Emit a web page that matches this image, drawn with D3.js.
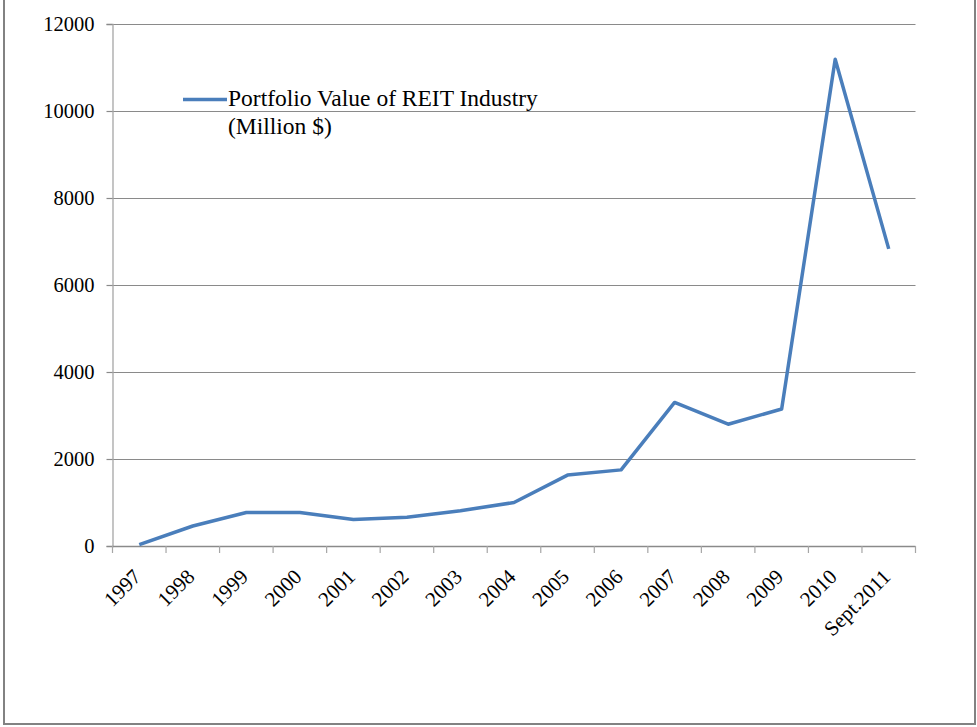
<!DOCTYPE html>
<html>
<head>
<meta charset="utf-8">
<script src="https://cdn.jsdelivr.net/npm/d3@7"></script>
<style>
  html, body { margin: 0; padding: 0; background: #fff; }
  svg { display: block; }
  text { font-family: "Liberation Serif", "Times New Roman", serif; fill: #000; }
</style>
</head>
<body>
<svg id="chart" width="977" height="727"></svg>
<script>
// Portfolio value of the REIT industry, million $
const categories = ["1997","1998","1999","2000","2001","2002","2003","2004",
                    "2005","2006","2007","2008","2009","2010","Sept.2011"];
const values = [30, 460, 770, 770, 610, 660, 810, 1000,
                1630, 1750, 3300, 2800, 3150, 11190, 6830];
const yTicks = [0, 2000, 4000, 6000, 8000, 10000, 12000];
const seriesName = ["Portfolio Value of REIT Industry", "(Million $)"];

const svg = d3.select("#chart");
const plot = { left: 112.5, right: 915.5, top: 24, bottom: 546 };

// outer frame
svg.append("rect")
  .attr("x", 4).attr("y", -5)
  .attr("width", 971).attr("height", 729)
  .attr("fill", "none").attr("stroke", "#828282").attr("stroke-width", 2);

const x = d3.scaleBand().domain(categories).range([plot.left, plot.right]).padding(0);
const y = d3.scaleLinear().domain([0, 12000]).range([plot.bottom, plot.top]);

// horizontal gridlines
svg.append("g").selectAll("line").data(yTicks.filter(d => d > 0)).join("line")
  .attr("x1", plot.left).attr("x2", plot.right)
  .attr("y1", d => Math.round(y(d)) + 0.5).attr("y2", d => Math.round(y(d)) + 0.5)
  .attr("stroke", "#8a8a8a").attr("stroke-width", 1.2);

// y axis
const yAxis = svg.append("g")
  .attr("transform", `translate(${plot.left},0)`)
  .call(d3.axisLeft(y).tickValues(yTicks).tickSize(6).tickPadding(12).tickFormat(d3.format("d")));
yAxis.select(".domain").attr("stroke", "#a6a6a6").attr("stroke-width", 1.3);
yAxis.selectAll(".tick line").attr("stroke", "#8a8a8a").attr("stroke-width", 1.2);
yAxis.selectAll(".tick text")
  .style("font-family", "'Liberation Serif', 'Times New Roman', serif")
  .style("font-size", "20.5px").attr("fill", "#000");

// x axis with boundary ticks
const xAxisG = svg.append("g").attr("transform", `translate(0,${plot.bottom})`);
xAxisG.append("line")
  .attr("x1", plot.left).attr("x2", plot.right)
  .attr("y1", 0.5).attr("y2", 0.5)
  .attr("stroke", "#8a8a8a").attr("stroke-width", 1.3);
const bounds = categories.map(c => x(c)).concat([x(categories[categories.length - 1]) + x.bandwidth()]);
xAxisG.selectAll("line.tk").data(bounds).join("line").attr("class", "tk")
  .attr("x1", d => d).attr("x2", d => d)
  .attr("y1", 0).attr("y2", 7)
  .attr("stroke", "#a6a6a6").attr("stroke-width", 1.2);
xAxisG.selectAll("text").data(categories).join("text")
  .attr("transform", d => `translate(${x(d) + x.bandwidth() / 2 + 3},${32}) rotate(-45)`)
  .attr("text-anchor", "end")
  .style("font-size", "21px")
  .text(d => d);

// series line
const line = d3.line()
  .x((d, i) => x(categories[i]) + x.bandwidth() / 2)
  .y(d => y(d));
svg.append("path")
  .datum(values)
  .attr("d", line)
  .attr("fill", "none")
  .attr("stroke", "#4a7ebb")
  .attr("stroke-width", 3.5)
  .attr("stroke-linejoin", "round");

// legend
const lg = svg.append("g");
lg.append("line")
  .attr("x1", 183).attr("x2", 227).attr("y1", 99.5).attr("y2", 99.5)
  .attr("stroke", "#4a7ebb").attr("stroke-width", 3.5);
lg.selectAll("text").data(seriesName).join("text")
  .attr("x", 228).attr("y", (d, i) => 106 + i * 28)
  .style("font-size", "23.5px")
  .text(d => d);
</script>
</body>
</html>
